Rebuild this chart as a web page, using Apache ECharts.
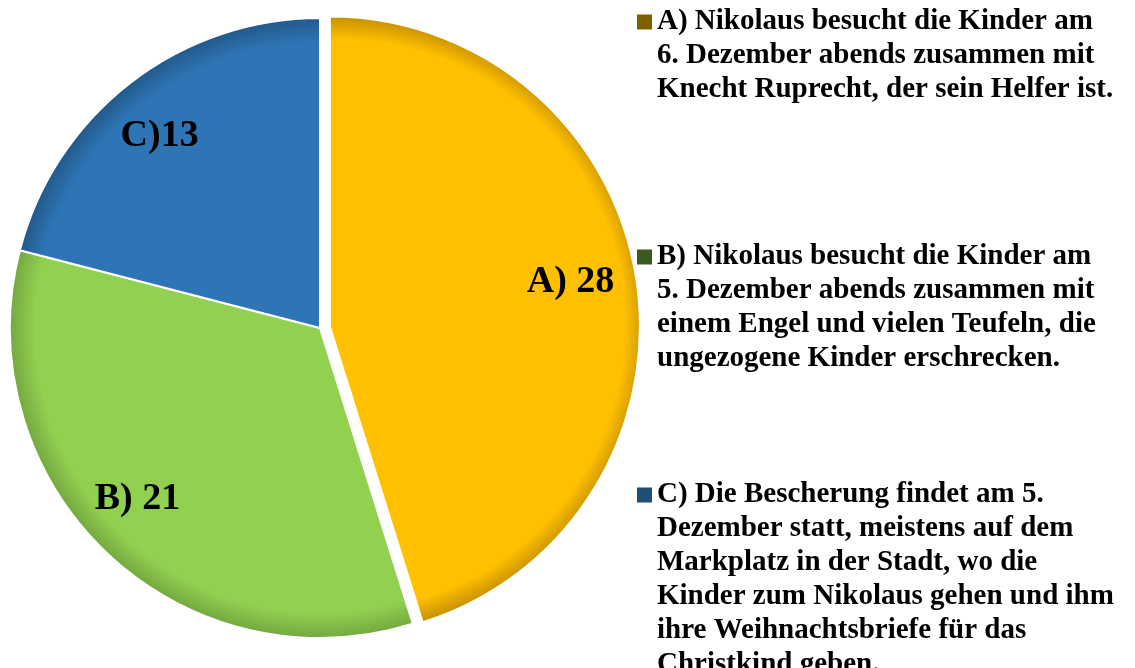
<!DOCTYPE html>
<html>
<head>
<meta charset="utf-8">
<style>
html, body { margin: 0; padding: 0; background: #fff; }
#chart { width: 1135px; height: 668px; }
</style>
<script src="https://cdn.jsdelivr.net/npm/echarts@6/dist/echarts.min.js"></script>
</head>
<body>
<div id="chart"></div>
<script>
var shortNames = ['A) 28', 'B) 21', 'C)13'];
var values = [28, 21, 13];
var legendLines = [
	['A) Nikolaus besucht die Kinder am', '6. Dezember abends zusammen mit', 'Knecht Ruprecht, der sein Helfer ist.'],
	['B) Nikolaus besucht die Kinder am', '5. Dezember abends zusammen mit', 'einem Engel und vielen Teufeln, die', 'ungezogene Kinder erschrecken.'],
	['C) Die Bescherung findet am 5.', 'Dezember statt, meistens auf dem', 'Markplatz in der Stadt, wo die', 'Kinder zum Nikolaus gehen und ihm', 'ihre Weihnachtsbriefe für das', 'Christkind geben.']
];
var sliceColors = ['#FFC000', '#92D050', '#2E75B6'];
var rimColors = ['#C08C00', '#74A840', '#22598A'];
var legendColors = ['#7F6000', '#3B5A22', '#1F4E79'];

var cx = 320, cy = 328, R = 310, explode = 10;
var lineH = 34;
var fontFam = '"Liberation Serif", serif';

var names = legendLines.map(function (l) { return l.join(' '); });
var total = values.reduce(function (a, b) { return a + b; }, 0);

var myCharts = echarts.init(document.getElementById('chart'));

function fill(i, ox, oy) {
	return new echarts.graphic.RadialGradient(cx + ox, cy + oy, R, [
		{offset: 0, color: sliceColors[i]},
		{offset: 0.92, color: sliceColors[i]},
		{offset: 1, color: rimColors[i]}
	], true);
}

var acc = 0;
var pieData = values.map(function (v, i) {
	var mid = (acc + v / 2) / total * Math.PI * 2;
	acc += v;
	var ox = i === 0 ? Math.sin(mid) * explode : 0;
	var oy = i === 0 ? -Math.cos(mid) * explode : 0;
	return {
		name: names[i],
		value: v,
		selected: i === 0,
		itemStyle: {color: fill(i, ox, oy)}
	};
});
// small nudges so the in-slice labels sit where the original has them
var labelNudge = [[-7, -6], [-10, -10], [-7, 6]];
var labelData = values.map(function (v, i) {
	return {
		name: names[i],
		value: v,
		selected: i === 0,
		label: {formatter: shortNames[i], offset: labelNudge[i]},
		select: {label: {formatter: shortNames[i], offset: labelNudge[i]}}
	};
});

// icon centre y of each legend entry
var legendIconY = [22, 257, 495];
var legends = legendLines.map(function (lines, i) {
	var n = lines.length;
	return {
		orient: 'vertical',
		left: 637,
		top: legendIconY[i] - (2 * n - 1) * lineH / 2,
		padding: 0,
		icon: 'rect',
		itemWidth: 15,
		itemHeight: 15,
		selectedMode: false,
		data: [{name: names[i], itemStyle: {color: legendColors[i], borderWidth: 0}}],
		// blank lines in front so the first real line sits beside the square
		formatter: function () {
			var pad = [];
			for (var k = 0; k < n - 1; k++) pad.push(' ');
			return pad.concat(lines).join('\n');
		},
		textStyle: {
			color: '#000',
			fontFamily: fontFam,
			fontWeight: 'bold',
			fontSize: 29,
			lineHeight: lineH
		}
	};
});

var option = {
	animation: false,
	legend: legends,
	series: [
	{
		type: 'pie',
		center: [cx, cy],
		radius: R,
		startAngle: 90,
		clockwise: true,
		selectedMode: 'single',
		selectedOffset: explode,
		silent: true,
		label: {show: false},
		labelLine: {show: false},
		itemStyle: {borderColor: '#fff', borderWidth: 2},
		data: pieData
	},
	{
		type: 'pie',
		center: [cx, cy],
		radius: [185, R],
		startAngle: 90,
		clockwise: true,
		selectedMode: 'single',
		selectedOffset: explode,
		silent: true,
		itemStyle: {color: 'rgba(0,0,0,0)'},
		label: {
			show: true,
			position: 'inside',
			color: '#000',
			fontFamily: fontFam,
			fontWeight: 'bold',
			fontSize: 38
		},
		labelLine: {show: false},
		data: labelData
	}
	]
};
myCharts.setOption(option);
</script>
</body>
</html>
